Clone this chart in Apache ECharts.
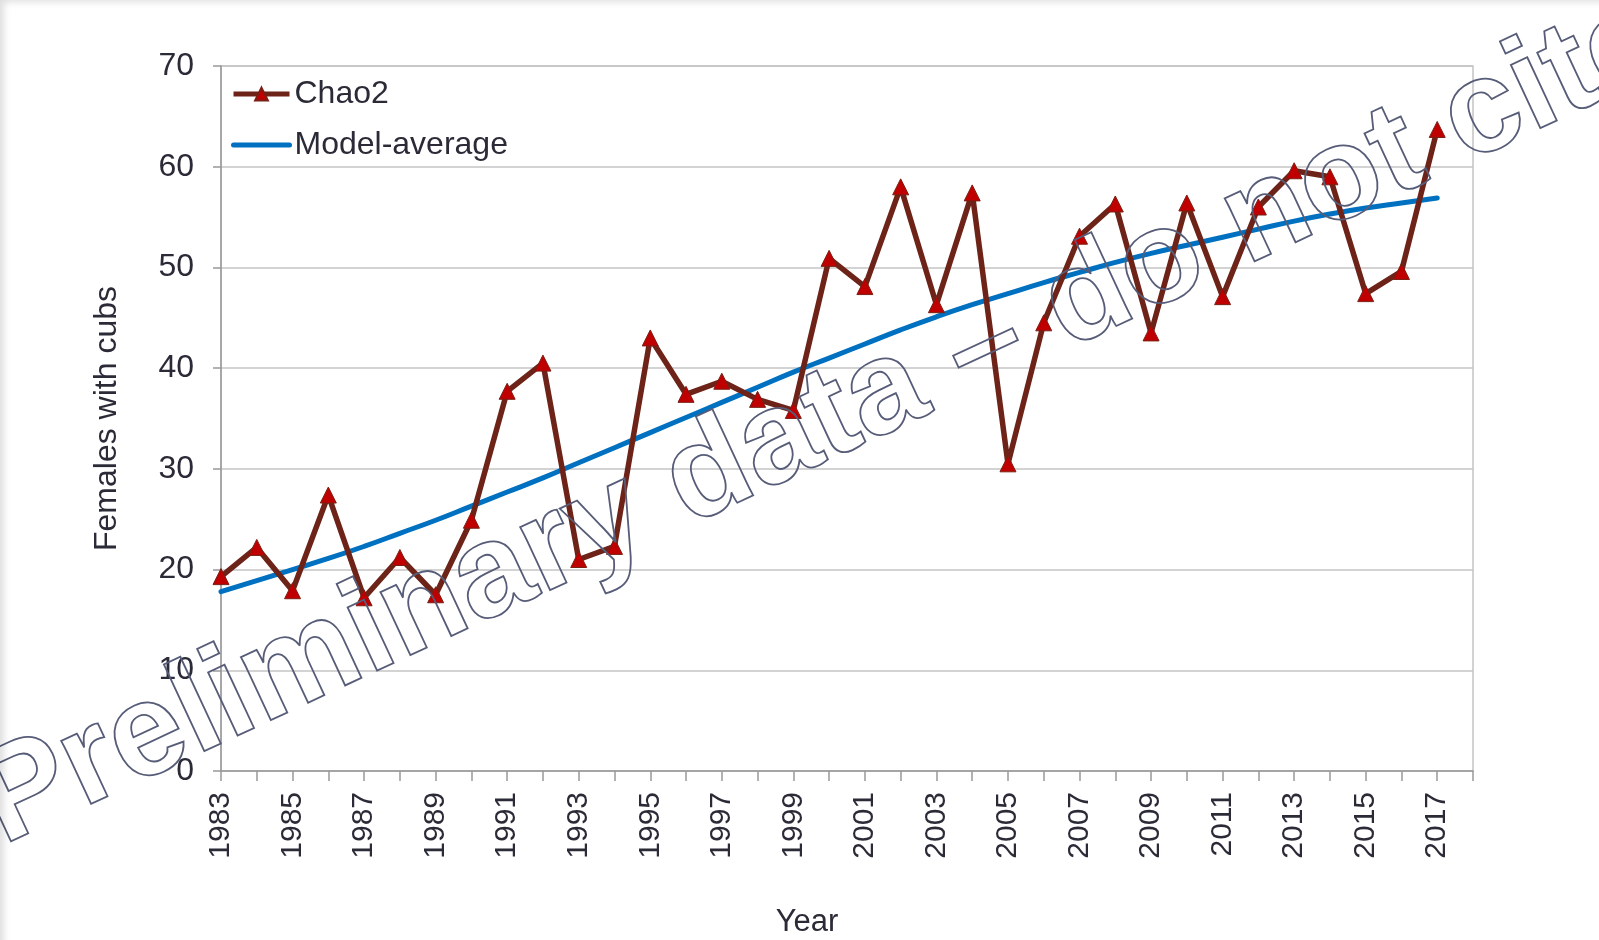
<!DOCTYPE html>
<html>
<head>
<meta charset="utf-8">
<script src="https://cdn.jsdelivr.net/npm/echarts@6/dist/echarts.min.js"></script>
<style>
  html, body { margin: 0; padding: 0; background: #fff; }
  #chart { width: 1599px; height: 940px; }
  #edge { position: absolute; left: 0; top: 0; width: 1599px; height: 940px; pointer-events: none;
          box-shadow: inset 7px 5px 7px -3px rgba(0,0,0,0.13); }
</style>
</head>
<body>
<div id="chart"></div>
<div id="edge"></div>
<script>
// years on the axis (2018 only closes the axis, no data)
const years = ['1983','1984','1985','1986','1987','1988','1989','1990','1991','1992',
  '1993','1994','1995','1996','1997','1998','1999','2000','2001','2002',
  '2003','2004','2005','2006','2007','2008','2009','2010','2011','2012',
  '2013','2014','2015','2016','2017','2018'];

const chao2 = [19.3, 22.2, 17.9, 27.4, 17.2, 21.2, 17.5, 24.9, 37.7, 40.5,
  21.0, 22.3, 43.0, 37.4, 38.7, 36.9, 35.8, 50.9, 48.1, 58.0,
  46.3, 57.4, 30.5, 44.5, 53.1, 56.3, 43.5, 56.4, 47.1, 56.0,
  59.6, 59.0, 47.4, 49.6, 63.7];

const modelAverage = [17.8, 18.9, 20.0, 21.1, 22.3, 23.6, 24.9, 26.3, 27.7, 29.1,
  30.6, 32.1, 33.6, 35.1, 36.6, 38.1, 39.6, 41.0, 42.4, 43.8,
  45.1, 46.3, 47.4, 48.5, 49.5, 50.5, 51.4, 52.2, 53.0, 53.8,
  54.6, 55.3, 55.9, 56.4, 56.9];

const textColor = '#2b2b38';
const font = 'Liberation Sans, Arial, sans-serif';

const chart = echarts.init(document.getElementById('chart'));
chart.setOption({
  animation: false,
  backgroundColor: '#fff',
  textStyle: { fontFamily: font, color: textColor },
  grid: {
    left: 221, right: 126, top: 66, bottom: 169,
    outerBoundsMode: 'none',
    show: true, borderColor: '#c4c4c4', borderWidth: 1.5
  },
  legend: {
    orient: 'vertical',
    left: 226, top: 73,
    itemWidth: 56, itemHeight: 16, itemGap: 19,
    lineStyle: { width: 5 },
    textStyle: { fontSize: 32, color: textColor, fontFamily: font },
    data: [
      { name: 'Chao2' },
      { name: 'Model-average', itemStyle: { opacity: 0 } }
    ]
  },
  xAxis: {
    type: 'category',
    data: years,
    boundaryGap: false,
    name: 'Year',
    nameLocation: 'middle',
    nameGap: 136,
    nameTextStyle: { fontSize: 31, color: textColor, padding: [0, 80, 0, 0] },
    axisLine: { lineStyle: { color: '#999', width: 1.5 } },
    axisTick: { show: true, interval: 0, length: 10, lineStyle: { color: '#999', width: 1.5 } },
    axisLabel: { interval: 1, rotate: 90, fontSize: 30, color: textColor, margin: 21 },
    splitLine: { show: false }
  },
  yAxis: {
    type: 'value',
    min: 0, max: 70, interval: 10,
    name: 'Females with cubs',
    nameLocation: 'middle',
    nameGap: 98,
    nameTextStyle: { fontSize: 32, color: textColor },
    axisLine: { show: true, lineStyle: { color: '#999', width: 1.5 } },
    axisTick: { show: true, length: 8, lineStyle: { color: '#999', width: 1.5 } },
    axisLabel: { fontSize: 32, color: textColor, margin: 27 },
    splitLine: { lineStyle: { color: '#c4c4c4', width: 1.5 } }
  },
  series: [
    {
      name: 'Chao2',
      type: 'line',
      data: chao2,
      symbol: 'triangle',
      symbolSize: 16,
      itemStyle: { color: '#c00000', borderColor: '#7a1f14', borderWidth: 1 },
      lineStyle: { color: '#6e2318', width: 5.5 },
      z: 3
    },
    {
      name: 'Model-average',
      type: 'line',
      data: modelAverage,
      symbol: 'none',
      smooth: true,
      itemStyle: { color: '#0070c0' },
      lineStyle: { color: '#0070c0', width: 5, cap: 'round' },
      z: 2
    }
  ],
  graphic: [
    {
      type: 'text',
      x: 822, y: 423,
      rotation: 25 * Math.PI / 180,
      z: 100,
      silent: true,
      style: {
        text: 'Preliminary data – do not cite',
        font: 'bold 132px Liberation Sans, Arial, sans-serif',
        fill: 'rgba(255,255,255,0)',
        stroke: '#575c78',
        lineWidth: 1.8,
        align: 'center',
        verticalAlign: 'middle',
        shadowBlur: 6,
        shadowColor: 'rgba(0,0,0,0.35)',
        shadowOffsetX: 3,
        shadowOffsetY: 4
      }
    }
  ]
});
</script>
</body>
</html>
